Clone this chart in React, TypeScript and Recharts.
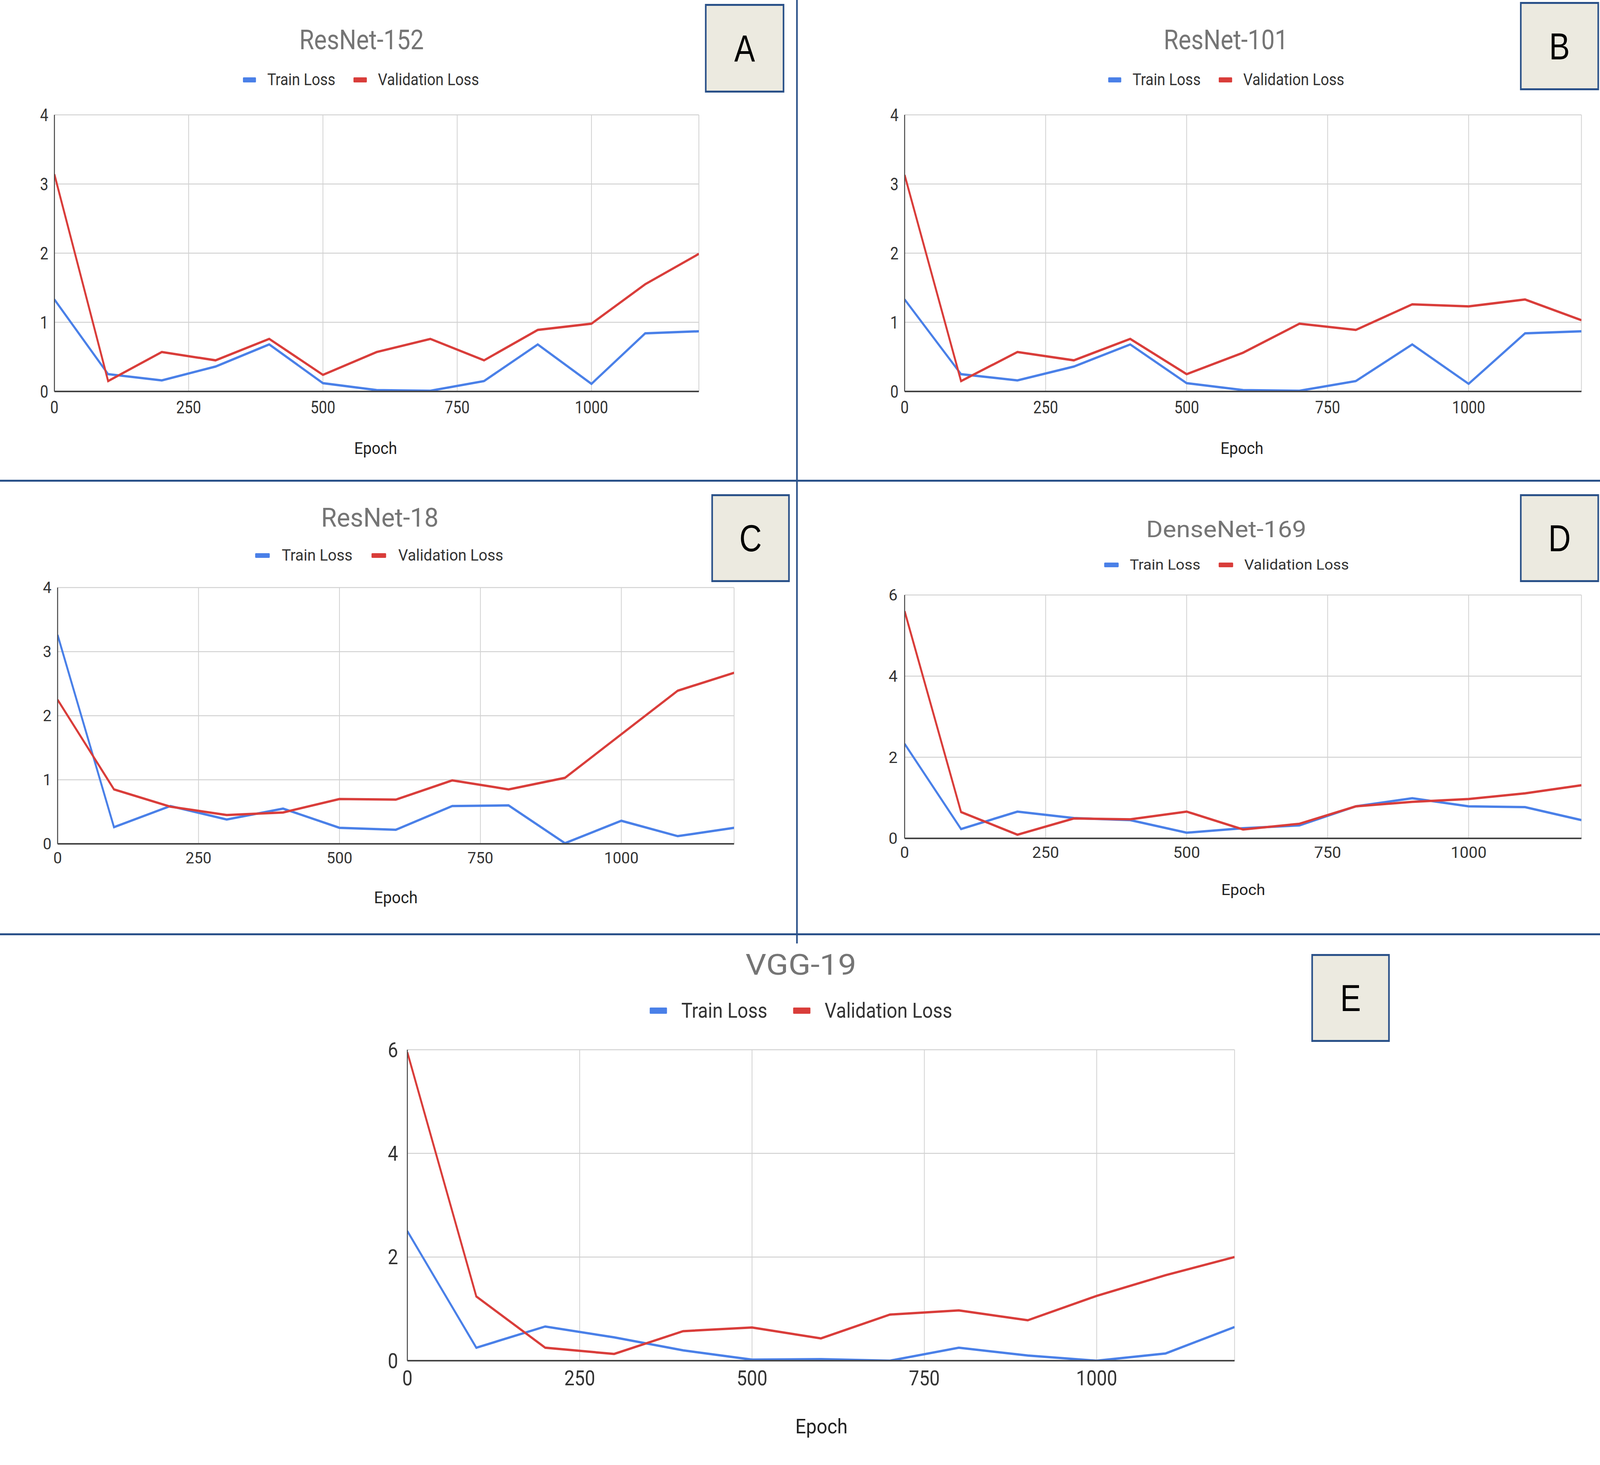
import React from 'react';
import { LineChart, Line, XAxis, YAxis, CartesianGrid } from 'recharts';

// ---------- data ----------
const epochs = [0, 100, 200, 300, 400, 500, 600, 700, 800, 900, 1000, 1100, 1200];
const xTicks = [0, 250, 500, 750, 1000];
const yTicks4 = [0, 1, 2, 3, 4];
const yTicks6 = [0, 2, 4, 6];
const seriesNames = ['Train Loss', 'Validation Loss'];
const titles = ['ResNet-152', 'ResNet-101', 'ResNet-18', 'DenseNet-169', 'VGG-19'];
const letters = ['A', 'B', 'C', 'D', 'E'];
const xAxisTitle = 'Epoch';

const resnet152Train = [1.33, 0.25, 0.16, 0.36, 0.68, 0.12, 0.02, 0.01, 0.15, 0.68, 0.11, 0.84, 0.87];
const resnet152Val = [3.14, 0.15, 0.57, 0.45, 0.76, 0.24, 0.57, 0.76, 0.45, 0.89, 0.98, 1.55, 1.99];
const resnet101Train = [1.33, 0.25, 0.16, 0.36, 0.68, 0.12, 0.02, 0.01, 0.15, 0.68, 0.11, 0.84, 0.87];
const resnet101Val = [3.13, 0.15, 0.57, 0.45, 0.76, 0.25, 0.56, 0.98, 0.89, 1.26, 1.23, 1.33, 1.03];
const resnet18Train = [3.26, 0.26, 0.59, 0.38, 0.55, 0.25, 0.22, 0.59, 0.6, 0.01, 0.36, 0.12, 0.25];
const resnet18Val = [2.25, 0.85, 0.58, 0.45, 0.49, 0.7, 0.69, 0.99, 0.85, 1.03, 1.71, 2.39, 2.67];
const densenet169Train = [2.33, 0.23, 0.66, 0.5, 0.45, 0.14, 0.25, 0.32, 0.79, 0.99, 0.79, 0.77, 0.45];
const densenet169Val = [5.6, 0.65, 0.09, 0.49, 0.47, 0.66, 0.22, 0.36, 0.79, 0.9, 0.97, 1.11, 1.31];
const vgg19Train = [2.5, 0.25, 0.66, 0.45, 0.2, 0.02, 0.03, 0.0, 0.25, 0.1, 0.0, 0.14, 0.65];
const vgg19Val = [5.95, 1.24, 0.25, 0.13, 0.57, 0.64, 0.43, 0.89, 0.97, 0.78, 1.25, 1.65, 2.0];

// ---------- styles ----------
const BLUE = '#4a80e8';
const RED = '#d93d3a';
const FRAME = '#2a5189';
const FONT = 'Roboto, "Open Sans", sans-serif';
const PAGE_W = 5000;
const PAGE_H = 3750;

type TextSpec = { size: number; sx: number };
type Layout = {
  x0: number; x1: number; y0: number; y1: number;
  title: { cx: number; cy: number } & TextSpec;
  legend: { cx: number; cy: number; mw: number; mh: number; gap: number; itemGap: number } & TextSpec;
  epoch: { cx: number; cy: number } & TextSpec;
  tick: TextSpec;
  yTickMargin: number;
  xTickMargin: number;
  box: { left: number; top: number; w: number; h: number };
};

const makeTick = (spec: TextSpec, anchor: string, dy: string) => (props: any) => {
  const { x, y, payload } = props;
  return (
    <text
      x={x}
      y={y}
      dy={dy}
      textAnchor={anchor}
      fontSize={spec.size}
      fontFamily={FONT}
      fill="#333"
      transform={`translate(${x} ${y}) scale(${spec.sx} 1) translate(${-x} ${-y})`}
    >
      {payload.value}
    </text>
  );
};

function CenterText({ cx, cy, size, sx, color, children }: any) {
  return (
    <div
      style={{
        position: 'absolute',
        left: cx,
        top: cy,
        transform: `translate(-50%, -50%) scaleX(${sx})`,
        fontSize: size,
        lineHeight: 1,
        fontFamily: FONT,
        color,
        whiteSpace: 'nowrap',
      }}
    >
      {children}
    </div>
  );
}

function Panel({ title, letter, train, val, yTicks, L }: { title: string; letter: string; train: number[]; val: number[]; yTicks: number[]; L: Layout }) {
  const YW = 300;
  const R = 40;
  const T = 60;
  const XH = 200;
  const data = epochs.map((e, i) => ({ epoch: e, train: train[i], val: val[i] }));
  const yMax = yTicks[yTicks.length - 1];
  const lg = L.legend;
  return (
    <>
      <div style={{ position: 'absolute', left: L.x0 - YW, top: L.y0 - T }}>
        <LineChart
          width={L.x1 - L.x0 + YW + R}
          height={L.y1 - L.y0 + T + XH}
          data={data}
          margin={{ top: T, right: R, bottom: 0, left: 0 }}
          style={{ overflow: 'visible' }}
        >
          <CartesianGrid stroke="#d2d2d2" strokeWidth={2.5} />
          <XAxis
            dataKey="epoch"
            type="number"
            domain={[0, 1200]}
            ticks={xTicks}
            interval={0}
            height={XH}
            tickSize={0}
            tickMargin={L.xTickMargin}
            axisLine={{ stroke: '#444', strokeWidth: 4 }}
            tickLine={false}
            tick={makeTick(L.tick, 'middle', '0.71em')}
            allowDataOverflow
          />
          <YAxis
            type="number"
            domain={[0, yMax]}
            ticks={yTicks}
            interval={0}
            width={YW}
            tickSize={0}
            tickMargin={L.yTickMargin}
            axisLine={{ stroke: '#444', strokeWidth: 3 }}
            tickLine={false}
            tick={makeTick(L.tick, 'end', '0.355em')}
            allowDataOverflow
          />
          <Line type="linear" dataKey="train" name={seriesNames[0]} stroke={BLUE} strokeWidth={6} dot={false} activeDot={false} isAnimationActive={false} />
          <Line type="linear" dataKey="val" name={seriesNames[1]} stroke={RED} strokeWidth={6} dot={false} activeDot={false} isAnimationActive={false} />
        </LineChart>
      </div>
      <CenterText cx={L.title.cx} cy={L.title.cy} size={L.title.size} sx={L.title.sx} color="#757575">{title}</CenterText>
      <div
        style={{
          position: 'absolute',
          left: lg.cx,
          top: lg.cy,
          transform: `translate(-50%, -50%) scaleX(${lg.sx})`,
          display: 'flex',
          alignItems: 'center',
          fontFamily: FONT,
          fontSize: lg.size,
          lineHeight: 1,
          color: '#333',
          whiteSpace: 'nowrap',
        }}
      >
        {[BLUE, RED].map((c, i) => (
          <div key={i} style={{ display: 'flex', alignItems: 'center', marginLeft: i === 0 ? 0 : lg.itemGap / lg.sx }}>
            <div style={{ width: lg.mw / lg.sx, height: lg.mh, background: c, borderRadius: 2 }} />
            <div style={{ marginLeft: lg.gap / lg.sx }}>{seriesNames[i]}</div>
          </div>
        ))}
      </div>
      <CenterText cx={L.epoch.cx} cy={L.epoch.cy} size={L.epoch.size} sx={L.epoch.sx} color="#222">{xAxisTitle}</CenterText>
      <div
        style={{
          position: 'absolute',
          left: L.box.left,
          top: L.box.top,
          width: L.box.w,
          height: L.box.h,
          boxSizing: 'border-box',
          border: `5px solid ${FRAME}`,
          background: '#ecEAe0',
          display: 'flex',
          alignItems: 'center',
          justifyContent: 'center',
          fontFamily: '"Liberation Sans", Arial, sans-serif',
          fontSize: 97,
          color: '#000',
          lineHeight: 1,
        }}
      >
        {letter}
      </div>
    </>
  );
}

const layouts: Layout[] = [
  {
    x0: 170, x1: 2184, y0: 294, y1: 1002,
    title: { cx: 1130, cy: 102, size: 70, sx: 1.07 },
    legend: { cx: 1128, cy: 204, size: 42, sx: 1.1, mw: 41, mh: 13, gap: 35, itemGap: 57 },
    epoch: { cx: 1174, cy: 1148, size: 42, sx: 1.15 },
    tick: { size: 44, sx: 1.05 },
    yTickMargin: 19, xTickMargin: 25,
    box: { left: 2203, top: 10, w: 248, h: 227 },
  },
  {
    x0: 2827, x1: 4942, y0: 294, y1: 1002,
    title: { cx: 3831, cy: 102, size: 70, sx: 1.07 },
    legend: { cx: 3832, cy: 204, size: 42, sx: 1.1, mw: 41, mh: 13, gap: 35, itemGap: 57 },
    epoch: { cx: 3881, cy: 1148, size: 42, sx: 1.15 },
    tick: { size: 44, sx: 1.05 },
    yTickMargin: 19, xTickMargin: 25,
    box: { left: 4750, top: 5, w: 247, h: 226 },
  },
  {
    x0: 180, x1: 2294, y0: 1504, y1: 2160,
    title: { cx: 1187, cy: 1326, size: 66, sx: 1.2 },
    legend: { cx: 1185, cy: 1422, size: 40, sx: 1.2, mw: 45, mh: 12, gap: 38, itemGap: 60 },
    epoch: { cx: 1237, cy: 2298, size: 42, sx: 1.17 },
    tick: { size: 40, sx: 1.2 },
    yTickMargin: 19, xTickMargin: 22,
    box: { left: 2223, top: 1265, w: 245, h: 225 },
  },
  {
    x0: 2827, x1: 4942, y0: 1523, y1: 2146,
    title: { cx: 3832, cy: 1355, size: 60, sx: 1.32 },
    legend: { cx: 3833, cy: 1446, size: 36, sx: 1.33, mw: 45, mh: 12, gap: 35, itemGap: 57 },
    epoch: { cx: 3885, cy: 2278, size: 38, sx: 1.3 },
    tick: { size: 40, sx: 1.25 },
    yTickMargin: 22, xTickMargin: 22,
    box: { left: 4750, top: 1265, w: 247, h: 225 },
  },
  {
    x0: 1273, x1: 3858, y0: 2687, y1: 3483,
    title: { cx: 2503, cy: 2470, size: 74, sx: 1.38 },
    legend: { cx: 2503, cy: 2587, size: 54, sx: 1.08, mw: 54, mh: 16, gap: 45, itemGap: 80 },
    epoch: { cx: 2567, cy: 3652, size: 52, sx: 1.13 },
    tick: { size: 53, sx: 1.08 },
    yTickMargin: 29, xTickMargin: 25,
    box: { left: 4098, top: 2442, w: 245, h: 225 },
  },
];

const trains = [resnet152Train, resnet101Train, resnet18Train, densenet169Train, vgg19Train];
const vals = [resnet152Val, resnet101Val, resnet18Val, densenet169Val, vgg19Val];
const yTickSets = [yTicks4, yTicks4, yTicks4, yTicks6, yTicks6];

export default function App() {
  const vw = (typeof window !== 'undefined' && (document.documentElement.clientWidth || window.innerWidth)) || PAGE_W;
  const vh = (typeof window !== 'undefined' && (window.innerHeight || document.documentElement.clientHeight)) || PAGE_H;
  const fx = Math.min(1, vw / PAGE_W);
  const fy = Math.min(1, vh / PAGE_H);
  return (
    <div style={{ position: 'absolute', left: 0, top: 0, width: PAGE_W * fx, height: PAGE_H * fy, overflow: 'hidden', background: '#fff' }}>
      <div
        style={{
          position: 'absolute',
          left: 0,
          top: 0,
          width: PAGE_W,
          height: PAGE_H,
          background: '#fff',
          transform: `scale(${fx}, ${fy})`,
          transformOrigin: '0 0',
        }}
      >
        {layouts.map((L, i) => (
          <Panel key={i} title={titles[i]} letter={letters[i]} train={trains[i]} val={vals[i]} yTicks={yTickSets[i]} L={L} />
        ))}
        <div style={{ position: 'absolute', left: 2488, top: 0, width: 5, height: 2415, background: FRAME }} />
        <div style={{ position: 'absolute', left: 0, top: 1228, width: PAGE_W, height: 5, background: FRAME }} />
        <div style={{ position: 'absolute', left: 0, top: 2389, width: PAGE_W, height: 5, background: FRAME }} />
      </div>
    </div>
  );
}
